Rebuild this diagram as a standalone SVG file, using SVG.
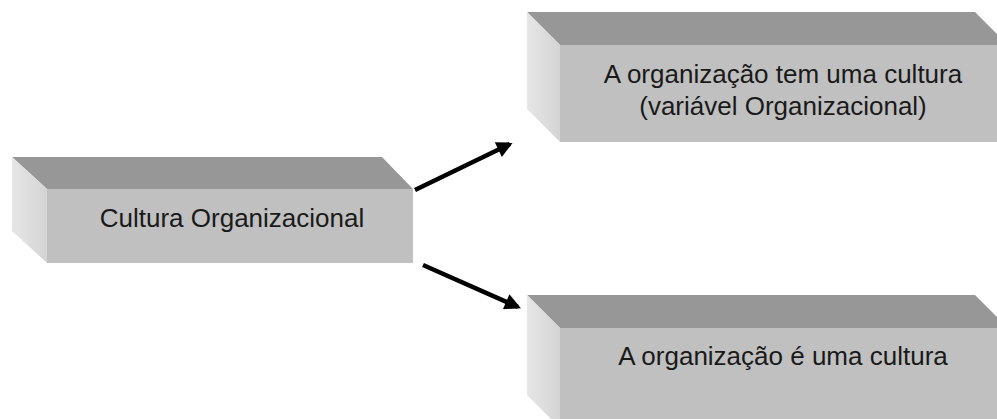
<svg xmlns="http://www.w3.org/2000/svg" width="997" height="419" viewBox="0 0 997 419">
  <defs>
    <style>
      .top { fill: #979797; }
      .front { fill: #c0c0c0; }
      .side { fill: url(#sideShade); }
      .label { font-family: "Liberation Sans", Arial, sans-serif; font-size: 26px; fill: #1a1a1a; text-anchor: middle; }
      .arrow { stroke: #000; stroke-width: 4.5; fill: none; marker-end: url(#head); }
    </style>
    <linearGradient id="sideShade" x1="0" y1="0" x2="1" y2="0">
      <stop offset="0" stop-color="#e6e6e6"/>
      <stop offset="1" stop-color="#d4d4d4"/>
    </linearGradient>
    <marker id="head" viewBox="0 0 10 10" refX="8" refY="5" markerWidth="4.4" markerHeight="3.6" orient="auto" markerUnits="strokeWidth">
      <path d="M0,0 L10,5 L0,10 Z" fill="#000"/>
    </marker>
  </defs>

  <rect width="997" height="419" fill="#ffffff"/>

  <!-- source block -->
  <g id="cultura">
    <polygon class="top" points="12,157 382,157 413,189 47,189"/>
    <polygon class="side" points="12,157 47,189 47,263 12,231"/>
    <rect class="front" x="47" y="189" width="366" height="74"/>
    <text class="label" x="232" y="227">Cultura Organizacional</text>
  </g>

  <!-- upper target block -->
  <g id="tem-cultura">
    <polygon class="top" points="527,12 975,12 1008,45 560,45"/>
    <polygon class="side" points="527,12 560,45 560,142 527,109"/>
    <rect class="front" x="560" y="45" width="448" height="97"/>
    <text class="label" x="783" y="83">A organização tem uma cultura</text>
    <text class="label" x="783" y="115">(variável Organizacional)</text>
  </g>

  <!-- lower target block -->
  <g id="e-cultura">
    <polygon class="top" points="527,295 975,295 1008,328 560,328"/>
    <polygon class="side" points="527,295 560,328 560,428 527,395"/>
    <rect class="front" x="560" y="328" width="448" height="100"/>
    <text class="label" x="783" y="365">A organização é uma cultura</text>
  </g>

  <!-- connectors -->
  <g id="connectors">
    <line class="arrow" x1="415" y1="190" x2="510" y2="144"/>
    <line class="arrow" x1="423" y1="265" x2="518" y2="307"/>
  </g>
</svg>
